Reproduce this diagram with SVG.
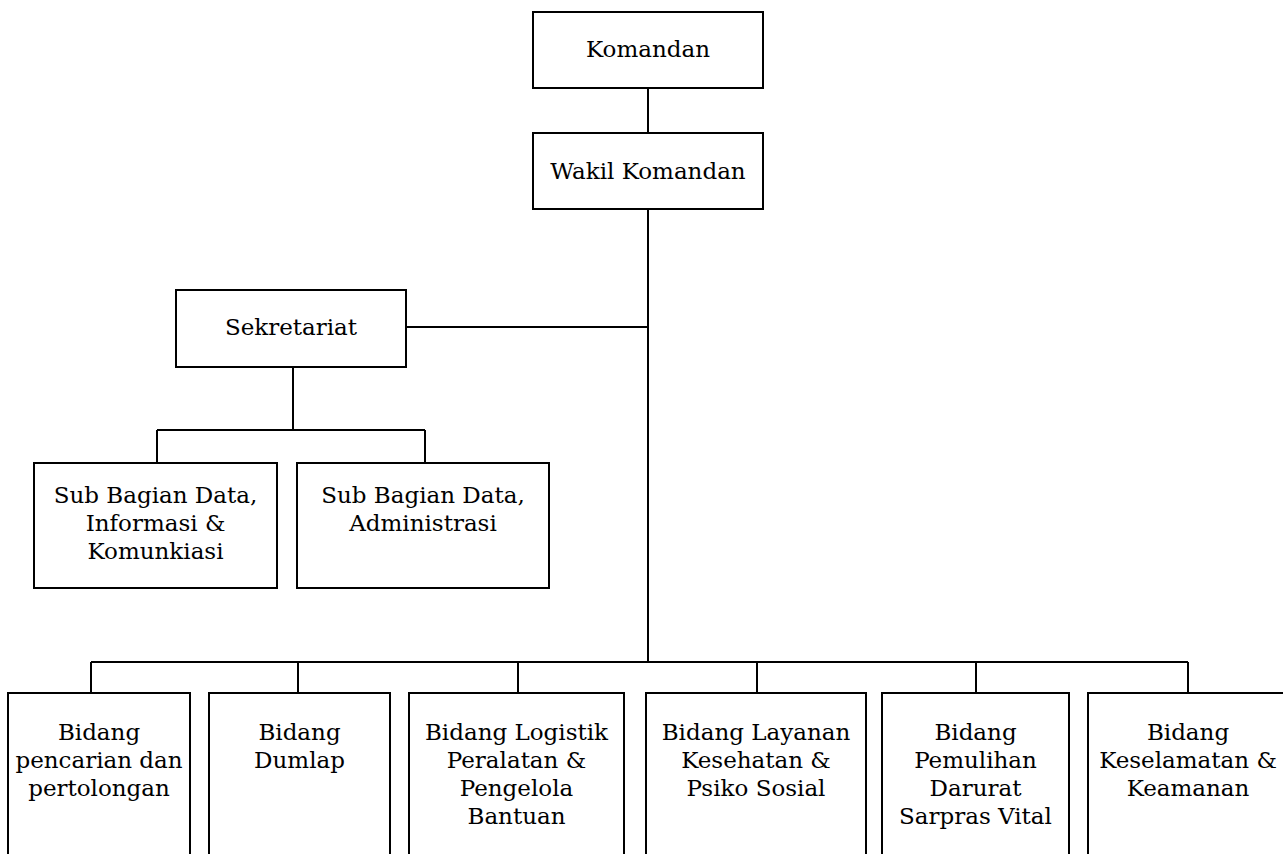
<svg xmlns="http://www.w3.org/2000/svg" width="1283" height="854" viewBox="0 0 1283 854">
<style>
.box{fill:#fff;stroke:#000;stroke-width:2}
.ln{fill:none;stroke:#000;stroke-width:2}
text{font-family:"DejaVu Serif","Liberation Serif",serif;font-size:23px;fill:#000;text-anchor:middle}
</style>
<rect width="1283" height="854" fill="#fff"/>
<g id="connectors" class="ln">
<path d="M648 88V133"/>
<path d="M648 209V662"/>
<path d="M406 327H648"/>
<path d="M293 367V430M157 430H425M157 430V463M425 430V463"/>
<path d="M91 662H1188M91 662V693M298 662V693M518 662V693M757 662V693M976 662V693M1188 662V693"/>
</g>
<g id="komandan"><rect class="box" x="533" y="12" width="230" height="76"/><text x="648" y="57">Komandan</text></g>
<g id="wakil"><rect class="box" x="533" y="133" width="230" height="76"/><text x="648" y="179">Wakil Komandan</text></g>
<g id="sekretariat"><rect class="box" x="176" y="290" width="230" height="77"/><text x="291" y="335">Sekretariat</text></g>
<g id="sub1"><rect class="box" x="34" y="463" width="243" height="125"/><text x="155.5" y="503">Sub Bagian Data,</text><text x="155.5" y="531">Informasi &amp;</text><text x="155.5" y="559">Komunkiasi</text></g>
<g id="sub2"><rect class="box" x="297" y="463" width="252" height="125"/><text x="423" y="503">Sub Bagian Data,</text><text x="423" y="531">Administrasi</text></g>
<g id="b1"><rect class="box" x="8" y="693" width="182" height="180"/><text x="99" y="740">Bidang</text><text x="99" y="768">pencarian dan</text><text x="99" y="796">pertolongan</text></g>
<g id="b2"><rect class="box" x="209" y="693" width="181" height="180"/><text x="299.5" y="740">Bidang</text><text x="299.5" y="768">Dumlap</text></g>
<g id="b3"><rect class="box" x="409" y="693" width="215" height="180"/><text x="516.5" y="740">Bidang Logistik</text><text x="516.5" y="768">Peralatan &amp;</text><text x="516.5" y="796">Pengelola</text><text x="516.5" y="824">Bantuan</text></g>
<g id="b4"><rect class="box" x="646" y="693" width="220" height="180"/><text x="756" y="740">Bidang Layanan</text><text x="756" y="768">Kesehatan &amp;</text><text x="756" y="796">Psiko Sosial</text></g>
<g id="b5"><rect class="box" x="882" y="693" width="187" height="180"/><text x="975.5" y="740">Bidang</text><text x="975.5" y="768">Pemulihan</text><text x="975.5" y="796">Darurat</text><text x="975.5" y="824">Sarpras Vital</text></g>
<g id="b6"><rect class="box" x="1088" y="693" width="210" height="180"/><text x="1188" y="740">Bidang</text><text x="1188" y="768">Keselamatan &amp;</text><text x="1188" y="796">Keamanan</text></g>
</svg>
